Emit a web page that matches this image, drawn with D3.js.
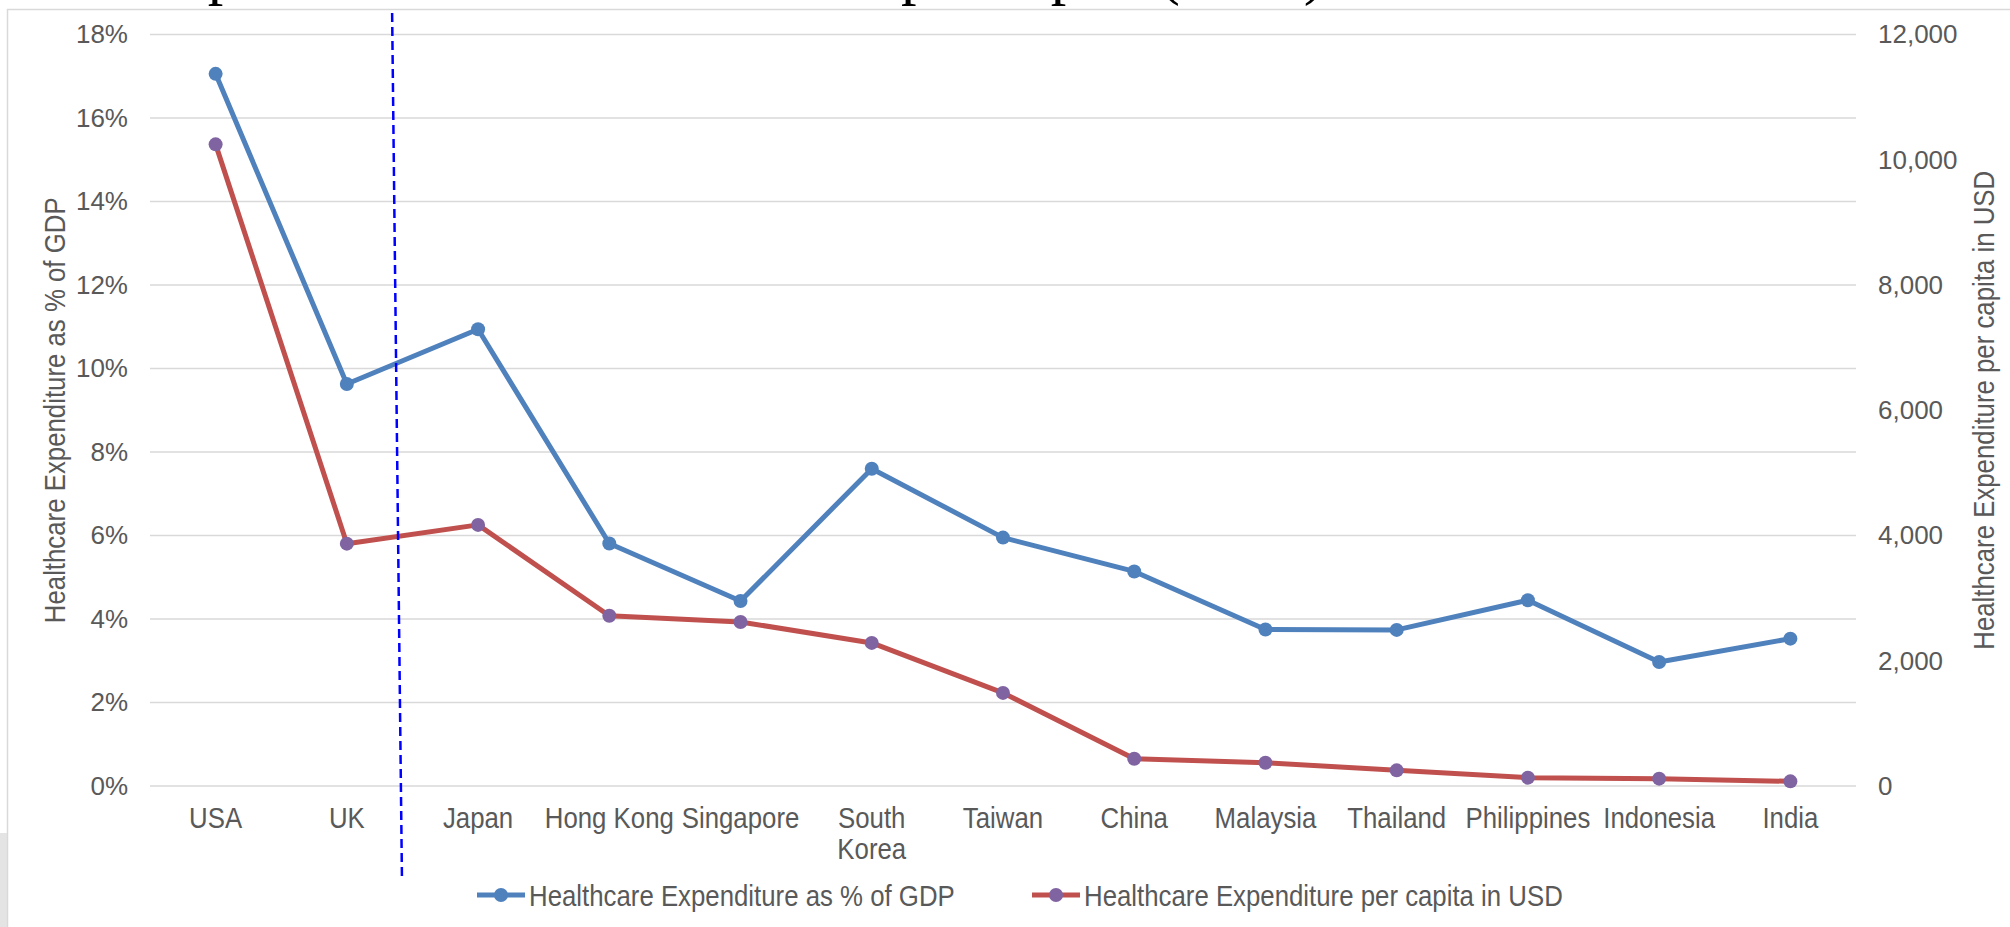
<!DOCTYPE html>
<html>
<head>
<meta charset="utf-8">
<script src="https://cdn.jsdelivr.net/npm/d3@7"></script>
<style>
    html, body { margin: 0; padding: 0; background: #fff; }
    svg { display: block; }
</style>
</head>
<body>
<svg id="chart"></svg>
<script>
// Données
const countries = ["USA", "UK", "Japan", "Hong Kong", "Singapore", "South Korea", "Taiwan",
    "China", "Malaysia", "Thailand", "Philippines", "Indonesia", "India"];
const pctOfGdp = [0.1706, 0.0963, 0.1094, 0.0581, 0.0443, 0.0760, 0.0595,
    0.0514, 0.0375, 0.0374, 0.0445, 0.0297, 0.0353];
const perCapitaUsd = [10247, 3870, 4170, 2720, 2620, 2285, 1487,
    436, 372, 250, 133, 117, 74];
const leftTicks = [0, 0.02, 0.04, 0.06, 0.08, 0.10, 0.12, 0.14, 0.16, 0.18];
const rightTicks = [0, 2000, 4000, 6000, 8000, 10000, 12000];
const seriesNames = ["Healthcare Expenditure as % of GDP", "Healthcare Expenditure per capita in USD"];
const titleText = "Healthcare Expenditure as % of GDP and per capita (2014)";

const width = 2010;
const height = 927;
const plot = { left: 150, right: 1856, top: 34.6, bottom: 786 };

// pas de police étroite installée : on compresse horizontalement
const narrowScale = 0.86;
const sans = "'Liberation Sans', Arial, sans-serif";
const textColor = "#595959";
const blue = "#4f81bd";
const red = "#c0504d";
const purple = "#8064a2";

const svg = d3.select("#chart").attr("width", width).attr("height", height);

// Cadre et titre (coupé en haut)
svg.append("rect").attr("x", 0).attr("y", 833).attr("width", 7).attr("height", 94).attr("fill", "#e4e4e4");
svg.append("rect")
    .attr("x", 7.5).attr("y", 9.5)
    .attr("width", width).attr("height", height)
    .attr("fill", "#fff").attr("stroke", "#d9d9d9").attr("stroke-width", 1.5);

const title = svg.append("text")
    .attr("x", 0).attr("y", -7)
    .style("font-family", "'Liberation Serif', 'Times New Roman', serif")
    .style("font-size", "62px")
    .attr("fill", "#000")
    .text(titleText);
// placer le "p" de "per" sous sa position d'origine
const perIndex = titleText.indexOf("per capita");
title.attr("x", 901 - title.node().getSubStringLength(0, perIndex));

// Échelles
const x = d3.scalePoint().domain(countries).range([plot.left, plot.right]).padding(0.5);
const yLeft = d3.scaleLinear().domain([0, 0.18]).range([plot.bottom, plot.top]);
const yRight = d3.scaleLinear().domain([0, 12000]).range([plot.bottom, plot.top]);

// Grille
svg.append("g")
    .selectAll("line")
    .data(leftTicks)
    .enter()
    .append("line")
    .attr("x1", plot.left).attr("x2", plot.right)
    .attr("y1", d => yLeft(d)).attr("y2", d => yLeft(d))
    .attr("stroke", "#d9d9d9").attr("stroke-width", 1.5);

// Axe gauche
const axisL = svg.append("g")
    .attr("transform", `translate(${plot.left},0)`)
    .call(d3.axisLeft(yLeft).tickValues(leftTicks).tickFormat(d3.format(".0%")).tickSize(0).tickPadding(22));
axisL.select(".domain").remove();
axisL.selectAll("text").style("font-family", sans).style("font-size", "26px").attr("fill", textColor);

// Axe droit
const axisR = svg.append("g")
    .attr("transform", `translate(${plot.right},0)`)
    .call(d3.axisRight(yRight).tickValues(rightTicks).tickFormat(d3.format(",")).tickSize(0).tickPadding(22));
axisR.select(".domain").remove();
axisR.selectAll("text").style("font-family", sans).style("font-size", "26px").attr("fill", textColor);

// Libellés des pays (South Korea sur deux lignes)
const labels = svg.append("g")
    .selectAll("text")
    .data(countries)
    .enter()
    .append("text")
    .attr("transform", d => `translate(${x(d)},828) scale(${narrowScale},1)`)
    .attr("text-anchor", "middle")
    .style("font-family", sans)
    .style("font-size", "30px")
    .attr("fill", textColor);
labels.each(function (d) {
    const words = d === "South Korea" ? ["South", "Korea"] : [d];
    d3.select(this).selectAll("tspan")
        .data(words)
        .enter()
        .append("tspan")
        .attr("x", 0)
        .attr("dy", (w, i) => (i === 0 ? 0 : 31))
        .text(w => w);
});

// Titres des axes
svg.append("text")
    .attr("transform", `translate(54,${(plot.top + plot.bottom) / 2}) rotate(-90) scale(${narrowScale},1)`)
    .attr("text-anchor", "middle")
    .attr("dy", "0.35em")
    .style("font-family", sans)
    .style("font-size", "30px")
    .attr("fill", textColor)
    .text(seriesNames[0]);

svg.append("text")
    .attr("transform", `translate(1983,${(plot.top + plot.bottom) / 2}) rotate(-90) scale(${narrowScale},1)`)
    .attr("text-anchor", "middle")
    .attr("dy", "0.35em")
    .style("font-family", sans)
    .style("font-size", "30px")
    .attr("fill", textColor)
    .text(seriesNames[1]);

// Lignes
const lineLeft = d3.line().x((d, i) => x(countries[i])).y(d => yLeft(d));
const lineRight = d3.line().x((d, i) => x(countries[i])).y(d => yRight(d));

svg.append("path")
    .datum(pctOfGdp)
    .attr("d", lineLeft)
    .attr("fill", "none").attr("stroke", blue).attr("stroke-width", 5).attr("stroke-linejoin", "round");
svg.append("g")
    .selectAll("circle")
    .data(pctOfGdp)
    .enter()
    .append("circle")
    .attr("cx", (d, i) => x(countries[i]))
    .attr("cy", d => yLeft(d))
    .attr("r", 7)
    .attr("fill", blue);

svg.append("path")
    .datum(perCapitaUsd)
    .attr("d", lineRight)
    .attr("fill", "none").attr("stroke", red).attr("stroke-width", 5).attr("stroke-linejoin", "round");
svg.append("g")
    .selectAll("circle")
    .data(perCapitaUsd)
    .enter()
    .append("circle")
    .attr("cx", (d, i) => x(countries[i]))
    .attr("cy", d => yRight(d))
    .attr("r", 7)
    .attr("fill", purple);

// Trait pointillé entre UK et Japan
const step = x.step();
svg.append("line")
    .attr("x1", x("UK") + step * 0.345).attr("y1", 13)
    .attr("x2", x("UK") + step * 0.42).attr("y2", 879)
    .attr("stroke", "#0000ff").attr("stroke-width", 2.5)
    .attr("stroke-dasharray", "9,5");

// Légende
const legendItems = [
    { name: seriesNames[0], line: blue, marker: blue, x: 477 },
    { name: seriesNames[1], line: red, marker: purple, x: 1032 },
];
const legend = svg.append("g")
    .selectAll("g")
    .data(legendItems)
    .enter()
    .append("g")
    .attr("transform", d => `translate(${d.x},895)`);
legend.append("line")
    .attr("x1", 0).attr("x2", 48).attr("y1", 0).attr("y2", 0)
    .attr("stroke", d => d.line).attr("stroke-width", 5);
legend.append("circle")
    .attr("cx", 24).attr("cy", 0).attr("r", 7)
    .attr("fill", d => d.marker);
legend.append("text")
    .attr("transform", `translate(52,0) scale(${narrowScale},1)`)
    .attr("dy", "0.35em")
    .style("font-family", sans)
    .style("font-size", "30px")
    .attr("fill", textColor)
    .text(d => d.name);
</script>
</body>
</html>
